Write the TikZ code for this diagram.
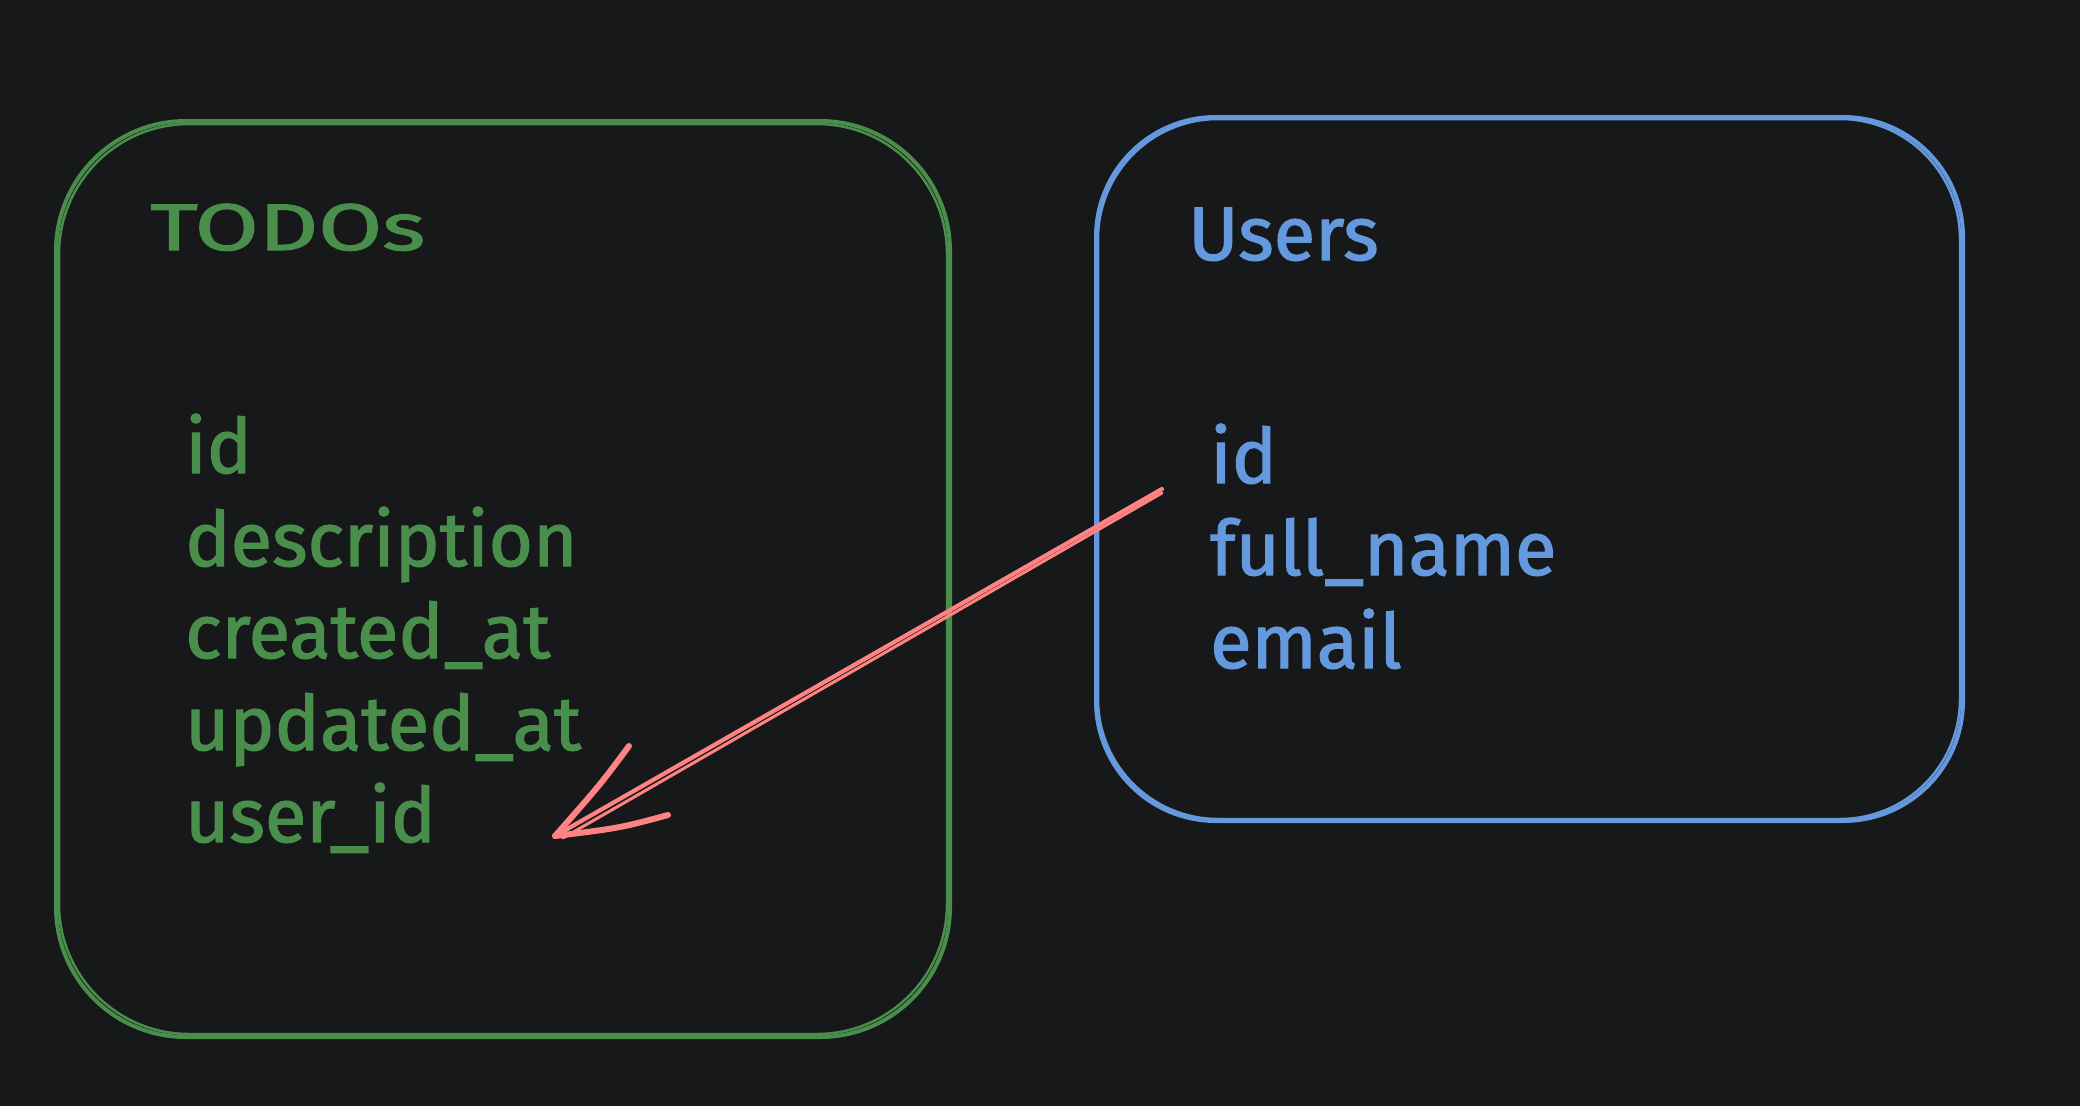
\documentclass[tikz,border=0pt]{standalone}
\usepackage{fontspec}
\setmainfont{Fira Sans}
\newfontfamily\handfont{Fira Sans}[FakeBold=1.6]
\definecolor{bgc}{HTML}{17181A}
\definecolor{grn}{HTML}{4A8E4C}
\definecolor{blu}{HTML}{6499DE}
\definecolor{rdc}{HTML}{FF8383}
\tikzset{
  lbl/.style={anchor=base west, inner sep=0pt, font=\handfont\fontsize{76}{92}\selectfont},
  gtxt/.style={lbl, text=grn},
  btxt/.style={lbl, text=blu},
  gbox/.style={draw=grn, line width=4pt, rounded corners=130pt},
  bbox/.style={draw=blu, line width=4pt, rounded corners=120pt},
  arr/.style={draw=rdc, line width=4.2pt, line cap=round, line join=round}
}
\begin{document}
\begin{tikzpicture}[x=1pt,y=-1pt]
\fill[bgc] (0,0) rectangle (2080,1106);
\useasboundingbox (0,0) rectangle (2080,1106);
% TODOs box (double sketchy stroke)
\draw[gbox] (56,121) rectangle (950,1037);
\draw[gbox, line width=2.5pt] (59,124) rectangle (947,1034);
% Users box
\draw[bbox] (1096,117) rectangle (1963,821);
\draw[bbox, line width=2.5pt] (1098,119) rectangle (1960,819);
% TODOs texts
\node[gtxt, font=\handfont\fontsize{66}{80}\selectfont] (todos) at (150,250) {\scalebox{1.4}[1]{TODOs}};
\node[gtxt] (tid) at (185,473) {id};
\node[gtxt] (tdesc) at (185,566) {description};
\node[gtxt] (tcreated) at (185,658) {created\_at};
\node[gtxt] (tupdated) at (185,750) {updated\_at};
\node[gtxt] (tuser) at (185,842) {user\_id};
% Users texts
\node[btxt] (users) at (1188,260) {Users};
\node[btxt] (uid) at (1210,483) {id};
\node[btxt] (uname) at (1210,575) {full\_name};
\node[btxt] (umail) at (1210,668) {email};
% arrow from Users.id to TODOs.user_id
\coordinate (as) at (1162,489);
\coordinate (at) at (555,836);
\coordinate (b1) at (629,746);
\coordinate (b2) at (668,815);
\draw[arr] (as) -- (at);
\draw[arr, line width=3pt] ([yshift=-4pt]as) -- ([xshift=8pt,yshift=-2pt]at);
\draw[arr, line width=6pt] (b1) .. controls (600,785) .. (at);
\draw[arr, line width=6pt] (b2) .. controls (620,828) .. (at);
\end{tikzpicture}
\end{document}
